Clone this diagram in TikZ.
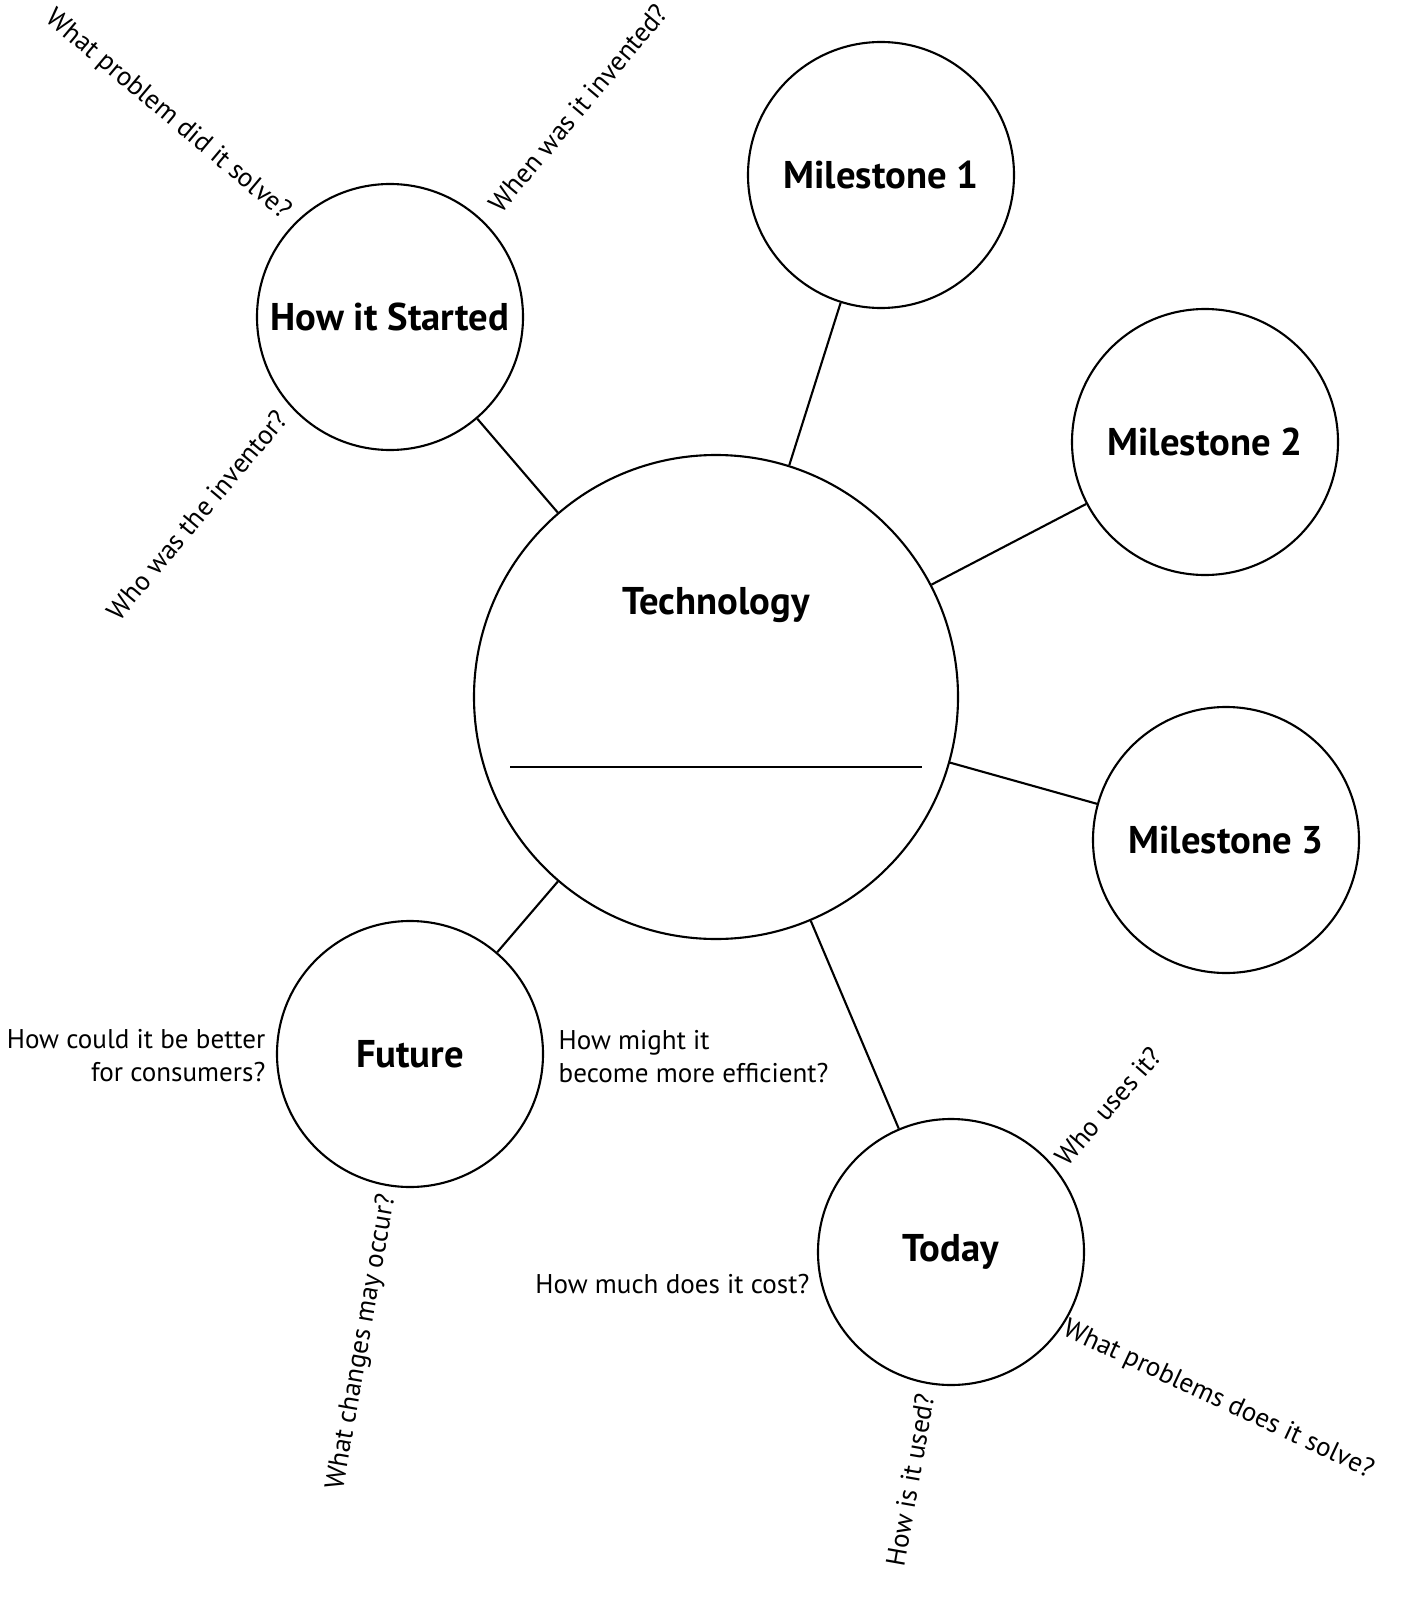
\documentclass[tikz,border=0pt]{standalone}
\usepackage{fontspec}
\setmainfont{PT Sans}
\begin{document}
\begin{tikzpicture}[x=1cm,y=1cm,
    bubble/.style={draw,circle,line width=0.6pt,minimum size=2.66cm,inner sep=0pt},
    hub/.style={bubble,minimum size=4.84cm},
    title/.style={font=\fontsize{11}{13}\selectfont\bfseries},
    prompt/.style={font=\fontsize{7.7}{9.4}\selectfont,inner sep=0pt}]

  \useasboundingbox (0,0) rectangle (14.19,-16.05);

  % Bubbles
  \node[hub] (tech) at (7.16,-6.97) {};
  \node[title] (techtext) at (7.16,-6.05) {Technology};
  \draw[line width=0.6pt] (5.10,-7.67) -- (9.22,-7.67);
  \node[bubble,title] (start) at (3.90,-3.17) {How it Started};
  \node[bubble,title] (mile1) at (8.81,-1.75) {Milestone 1};
  \node[bubble,title] (mile2) at (12.05,-4.42) {Milestone 2};
  \node[bubble,title] (mile3) at (12.26,-8.40) {Milestone 3};
  \node[bubble,title] (future) at (4.10,-10.54) {Future};
  \node[bubble,title] (today) at (9.51,-12.52) {Today};

  % Spokes
  \draw[line width=0.6pt] (tech) -- (start);
  \draw[line width=0.6pt] (tech) -- (mile1);
  \draw[line width=0.6pt] (tech) -- (mile2);
  \draw[line width=0.6pt] (tech) -- (mile3);
  \draw[line width=0.6pt] (tech) -- (future);
  \draw[line width=0.6pt] (tech) -- (today);

  % Questions
  \node[prompt,rotate=-40] (startq1) at (1.68,-1.15) {What problem did it solve?};
  \node[prompt,rotate=50] (startq2) at (5.78,-1.08) {When was it invented?};
  \node[prompt,rotate=50] (startq3) at (1.97,-5.15) {Who was the inventor?};
  \node[prompt,align=right,anchor=east] (futureq1) at (2.66,-10.555)
    {How could it be better\\for consumers?};
  \node[prompt,align=left,anchor=west] (futureq2) at (5.58,-10.57)
    {How might it\\become more efficient?};
  \node[prompt,rotate=80] (futureq3) at (3.62,-13.42) {What changes may occur?};
  \node[prompt,rotate=49] (todayq1) at (11.08,-11.06) {Who uses it?};
  \node[prompt,anchor=east] (todayq2) at (8.10,-12.84) {How much does it cost?};
  \node[prompt,rotate=-25] (todayq3) at (12.18,-14.00) {What problems does it solve?};
  \node[prompt,rotate=80] (todayq4) at (9.10,-14.80) {How is it used?};
\end{tikzpicture}
\end{document}
